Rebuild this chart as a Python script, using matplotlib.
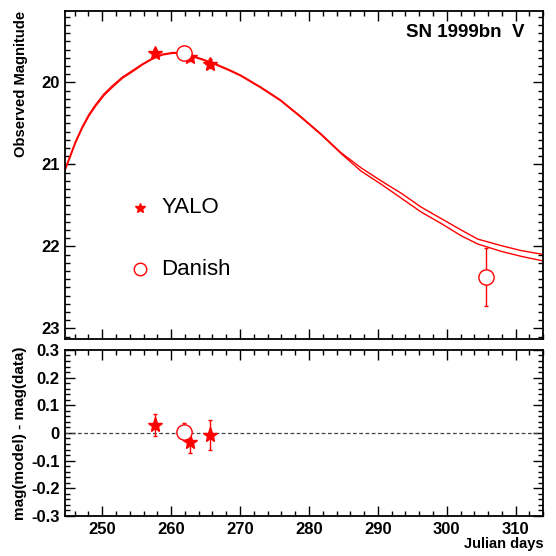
import numpy as np
import matplotlib
matplotlib.use('Agg')
import matplotlib.pyplot as plt
from matplotlib.ticker import MultipleLocator

plt.rcParams['font.family'] = ['Liberation Sans', 'DejaVu Sans']

#model light curves (two fits)
model_days = [244.66, 245.39, 246.11, 247.09, 248.06, 249.03, 250.24, 251.46, 252.91, 254.37,
              255.82, 257.28, 258.73, 260.19, 261.64, 263.10, 264.56, 266.5, 268.44, 270.09,
              273.0, 275.91, 278.82, 281.73, 284.64, 287.55, 290.47, 293.38, 296.29, 299.2,
              302.11, 304.5, 307.93, 310.8, 314.2]
model_upper = [21.04, 20.88, 20.72, 20.54, 20.39, 20.27, 20.14, 20.04, 19.935, 19.855,
               19.775, 19.705, 19.655, 19.635, 19.635, 19.675, 19.715, 19.775, 19.845, 19.91,
               20.055, 20.215, 20.415, 20.625, 20.855, 21.04, 21.20, 21.35, 21.52, 21.66,
               21.80, 21.91, 21.99, 22.05, 22.10]
model_lower = [21.06, 20.90, 20.74, 20.56, 20.41, 20.29, 20.16, 20.06, 19.95, 19.87,
               19.785, 19.715, 19.665, 19.645, 19.645, 19.685, 19.725, 19.785, 19.855, 19.92,
               20.065, 20.225, 20.425, 20.635, 20.865, 21.08, 21.24, 21.41, 21.58, 21.72,
               21.87, 21.97, 22.06, 22.12, 22.18]

#YALO photometry
yalo_days = [257.7, 262.8, 265.7]
yalo_mag = [19.635, 19.695, 19.77]
yalo_err = [0.04, 0.04, 0.055]
yalo_res = [0.030, -0.033, -0.008]

#Danish photometry
danish_days = [261.8, 305.7]
danish_mag = [19.635, 22.37]
danish_err = [0.03, 0.35]
danish_res = [0.005]
danish_res_err = [0.03]

red = '#ff0000'

fig = plt.figure(figsize=(5.56, 5.56), dpi=100)
ax1 = fig.add_axes([0.117, 0.390, 0.860, 0.590])
ax2 = fig.add_axes([0.117, 0.072, 0.860, 0.2986])

'''top panel'''
ax1.plot(model_days, model_upper, color=red, lw=1.0)
ax1.plot(model_days, model_lower, color=red, lw=1.0)

ax1.errorbar(yalo_days, yalo_mag, yerr=yalo_err, fmt='*', color=red, ms=10,
             elinewidth=1, capsize=1.5, zorder=3)
ax1.errorbar(danish_days, danish_mag, yerr=danish_err, fmt='o', color=red, mfc='white',
             ms=11, mew=1, elinewidth=1, capsize=1.5, zorder=3)

ax1.set_xlim(244.6, 314.0)
ax1.set_ylim(23.13, 19.13)
ax1.set_ylabel('Observed Magnitude', fontsize=10.6, fontweight='bold', labelpad=9, loc='top')
ax1.yaxis.set_major_locator(MultipleLocator(1))
ax1.yaxis.set_minor_locator(MultipleLocator(0.1))
ax1.set_xticklabels([])

ax1.text(0.96, 0.962, 'SN 1999bn  V', transform=ax1.transAxes, ha='right', va='top',
         fontsize=13.5, fontweight='bold')

#legend drawn by hand
ax1.plot([255.5], [21.53], '*', color=red, ms=7)
ax1.text(258.6, 21.53, 'YALO', fontsize=16, va='center')
ax1.plot([255.5], [22.28], 'o', color=red, mfc='white', ms=9, mew=1)
ax1.text(258.6, 22.28, 'Danish', fontsize=16, va='center')

'''bottom panel'''
ax2.axhline(0, color='#444444', lw=0.9, ls=(0, (3, 2)))
ax2.errorbar(yalo_days, yalo_res, yerr=yalo_err, fmt='*', color=red, ms=11,
             elinewidth=1, capsize=1.5, zorder=3)
ax2.errorbar(danish_days[:1], danish_res, yerr=danish_res_err, fmt='o', color=red,
             mfc='white', ms=11, mew=1, elinewidth=1, capsize=1.5, zorder=3)

ax2.set_xlim(244.6, 314.0)
ax2.set_ylim(-0.3, 0.3)
ax2.yaxis.set_major_locator(MultipleLocator(0.1))
ax2.yaxis.set_minor_locator(MultipleLocator(0.02))
ax2.set_yticks([-0.3, -0.2, -0.1, 0, 0.1, 0.2, 0.3])
ax2.set_yticklabels(['-0.3', '-0.2', '-0.1', '0', '0.1', '0.2', '0.3'])
ax2.set_ylabel('mag(model) - mag(data)', fontsize=11, fontweight='bold', labelpad=3)
ax2.set_xlabel('Julian days', fontsize=10.5, fontweight='bold', loc='right', labelpad=0)

for ax in (ax1, ax2):
    ax.xaxis.set_major_locator(MultipleLocator(10))
    ax.xaxis.set_minor_locator(MultipleLocator(2))
    ax.tick_params(which='both', direction='in', top=True, right=True,
                   labelsize=12, width=1, pad=4)
    ax.tick_params(which='major', length=7)
    ax.tick_params(which='minor', length=3.5)
    for lab in ax.get_xticklabels() + ax.get_yticklabels():
        lab.set_fontweight('bold')
    for sp in ax.spines.values():
        sp.set_linewidth(1.3)

fig.savefig('out.png', dpi=100)
